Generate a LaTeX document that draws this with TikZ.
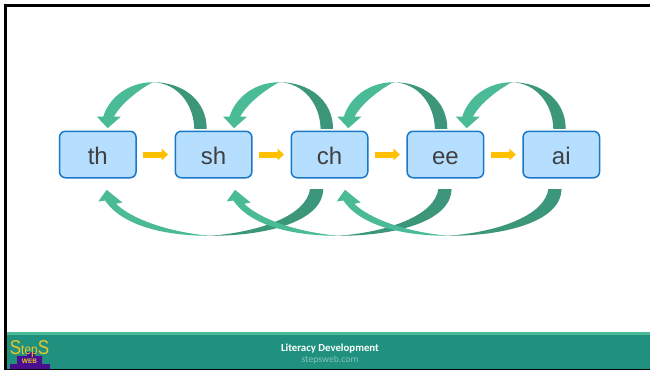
\documentclass[tikz,border=0pt]{standalone}
\usepackage{fontspec}
\setmainfont{Liberation Sans}
\newfontfamily\footfont{Carlito}
\usetikzlibrary{arrows.meta}
\definecolor{darkgreen}{HTML}{3B967A}
\definecolor{lightgreen}{HTML}{4BBB97}
\definecolor{boxfill}{HTML}{B5DEFF}
\definecolor{boxline}{HTML}{1A78C8}
\definecolor{flow}{HTML}{FFC000}
\definecolor{teal}{HTML}{20917F}
\definecolor{logoyellow}{HTML}{E6C72A}
\definecolor{logopurple}{HTML}{4A0E8F}
\tikzset{
  letterbox/.style={draw=boxline,fill=boxfill,line width=1.5pt,rounded corners=6pt,
    minimum width=76.5pt,minimum height=46.5pt,inner sep=0pt,text=black!75,
    font=\fontsize{24}{24}\selectfont,text height=20pt,text depth=0.4pt},
  flowarrow/.style={draw=flow,line width=6pt,shorten >=6.5pt,shorten <=6.5pt,
    -{Triangle[width=11.5pt,length=6.5pt]}},
  backfold/.style={fill=darkgreen},
  frontfold/.style={fill=lightgreen},
}
% #1 head node, #2 x offset of the tip from its north anchor
\newcommand{\overarrow}[2]{%
  \begin{scope}[shift={([xshift=#2pt,yshift=2.3pt]#1.north)}]
    \fill[backfold] (45.3,-46) .. controls (75,-46) and (99,-28) .. (99,0.6)
      -- (86.6,0.6) .. controls (86,-24) and (70,-45) .. (45.3,-46) -- cycle;
    \fill[frontfold] (0,0) -- (-11,-11.7) -- (-4.4,-11.7)
      .. controls (2,-32) and (22,-46) .. (45.3,-46)
      .. controls (30,-38) and (13,-24) .. (6.3,-11.7) -- (13.3,-11.7) -- cycle;
  \end{scope}}
\newcommand{\underarrow}[2]{%
  \begin{scope}[shift={([xshift=#2pt,yshift=-11.3pt]#1.south)}]
    \fill[backfold] (103.3,46) .. controls (165,46) and (216,30) .. (216.6,-0.7)
      -- (203.3,-0.7) .. controls (200,25) and (155,42) .. (103.3,46) -- cycle;
    \fill[frontfold] (0,0) -- (-8.4,11.7) -- (-1.7,10.7)
      .. controls (15,35) and (55,46) .. (103.3,46)
      .. controls (60,42) and (25,29) .. (9.3,14) -- (15.6,12.7) -- cycle;
  \end{scope}}
\begin{document}
\begin{tikzpicture}[x=1pt,y=-1pt]
  \useasboundingbox (0,0) rectangle (650,370);
  \fill[white] (0,0) rectangle (650,370);
  \fill[black] (4,4) rectangle (650,370);
  \fill[white] (7,7) rectangle (650,332.3);
  \fill[lightgreen] (7,332.3) rectangle (650,335.3);
  \fill[teal] (7,335.3) rectangle (650,368.7);

  \node[letterbox] (th) at (97.8,154.5) {th};
  \node[letterbox] (sh) at (213.6,154.5) {sh};
  \node[letterbox] (ch) at (329.5,154.5) {ch};
  \node[letterbox] (ee) at (445.4,154.5) {ee};
  \node[letterbox] (ai) at (561.3,154.5) {ai};

  \draw[flowarrow] (th.east) -- (sh.west);
  \draw[flowarrow] (sh.east) -- (ch.west);
  \draw[flowarrow] (ch.east) -- (ee.west);
  \draw[flowarrow] (ee.east) -- (ai.west);

  \overarrow{th}{9.9}
  \overarrow{sh}{20.4}
  \overarrow{ch}{18.8}
  \overarrow{ee}{21.3}

  \underarrow{th}{8.9}
  \underarrow{sh}{21.4}
  \underarrow{ch}{15.5}

  % logo
  \fill[logopurple] (10,364) rectangle (50,369) (17,356) rectangle (42,364) (27,352) rectangle (35,356);
  \node[inner sep=0pt,anchor=base,text=logoyellow] (logoword) at (29.5,354.8)
    {\smash{\scalebox{0.85}[1]{\fontsize{20}{20}\selectfont S\fontsize{14}{14}\selectfont tep\fontsize{20}{20}\selectfont S}}};
  \node[inner sep=0pt,text=logoyellow,font=\bfseries\fontsize{6.5}{6.5}\selectfont] (logoweb) at (29.5,361.6) {WEB};

  \node[inner sep=0pt,text=white,font=\footfont\bfseries\fontsize{10.8}{11}\selectfont] (foot) at (330,348.6) {Literacy Development};
  \node[inner sep=0pt,text=teal!55!white,font=\footfont\fontsize{9.7}{10}\selectfont] (site) at (330,360) {stepsweb.com};
\end{tikzpicture}
\end{document}
